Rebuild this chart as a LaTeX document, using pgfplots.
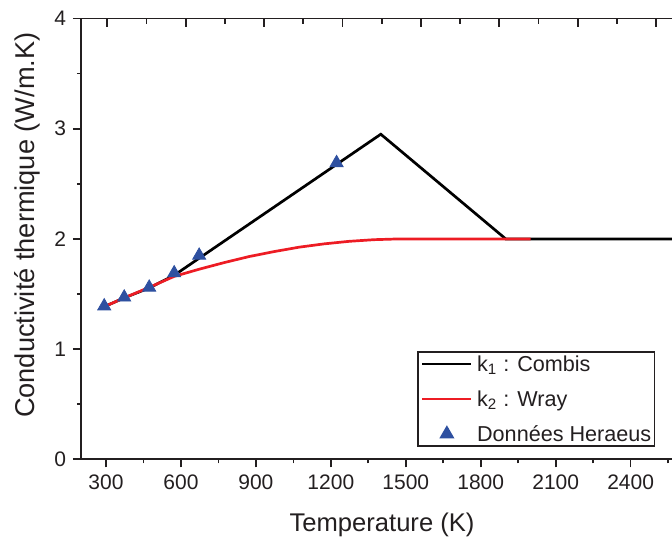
\documentclass[border=0pt]{standalone}
\usepackage{pgfplots}
\pgfplotsset{compat=1.18}
\usepackage{fontspec}
\setmainfont{Liberation Sans}
\definecolor{origred}{RGB}{237,28,36}
\definecolor{origblue}{RGB}{46,80,160}
\definecolor{axgray}{RGB}{35,31,32}
\pgfplotsset{
  lineleg/.style={legend image code/.code={\draw[##1] (0pt,0pt) -- (24.5pt,0pt);}},
  markleg/.style={legend image code/.code={\draw[##1] plot coordinates {(12.25pt,0pt)};}},
}
\begin{document}
\begin{tikzpicture}
\path[use as bounding box] (-40.5pt,-38.85pt) rectangle (295.5pt,229.65pt);
\clip (-40.5pt,-38.85pt) rectangle (295.5pt,229.65pt);
\begin{axis}[
  at={(0,0)}, anchor=south west,
  scale only axis, width=299.8pt, height=220.4pt,
  xmin=200, xmax=2600, ymin=0, ymax=4,
  axis x line*=bottom, axis y line*=left,
  axis line style={line width=0.85pt, -, axgray},
  tick align=outside,
  major tick length=4pt, minor tick length=2pt,
  tick style={line width=0.85pt, axgray},
  xtick={300,600,...,2400}, minor xtick={450,750,...,2550},
  ytick={0,1,2,3,4}, minor ytick={0.5,1.5,2.5,3.5},
  /pgf/number format/1000 sep={},
  /pgf/number format/assume math mode=true,
  ticklabel style={font=\fontsize{10.5}{12}\selectfont, text=axgray},
  xlabel={Temperature (K)},
  xlabel style={at={(axis description cs:0.502,-0.1643)}, anchor=base, font=\fontsize{12.8}{15}\selectfont, text=axgray},
  ylabel={Conductivité thermique (W/m.K)},
  ylabel style={at={(axis description cs:-0.0772,0.531)}, anchor=base, font=\fontsize{13.6}{16}\selectfont, text=axgray},
  legend style={at={(axis description cs:0.561,0.0286)}, anchor=south west,
    draw=axgray, line width=0.65pt, fill=white,
    inner xsep=1.5pt, inner ysep=0pt, row sep=5.5pt, column sep=2.2pt,
    font=\fontsize{10.8}{13}\selectfont,
    nodes={inner xsep=0pt, inner ysep=1pt, text height=8.5pt, text depth=1.5pt, text=axgray}},
  legend cell align=left,
]
\addplot[black, line width=1.35pt, lineleg]
  coordinates {(293,1.385) (373,1.465) (473,1.555) (573,1.67) (1400,2.95) (1900,2.0) (2600,2.0)};
\addlegendentry{k\textsubscript{1} : Combis}
\addplot[origred, line width=1.35pt, lineleg]
  coordinates {(293,1.385) (373,1.465) (473,1.56) (573,1.66) (673,1.725) (773,1.785) (873,1.84) (973,1.885) (1073,1.925) (1173,1.955) (1273,1.978) (1373,1.993) (1473,2.0) (2000,2.0)};
\addlegendentry{k\textsubscript{2} : Wray}
\addplot[only marks, mark=triangle*, mark size=3.75pt, color=origblue, fill=origblue, markleg]
  coordinates {(293,1.39) (373,1.47) (473,1.56) (573,1.69) (673,1.85) (1223,2.69)};
\addlegendentry{Données Heraeus}
\end{axis}
\begin{axis}[
  at={(0,0)}, anchor=south west,
  scale only axis, width=299.8pt, height=220.4pt,
  xmin=0, xmax=599.6, ymin=0, ymax=4,
  axis x line*=top, axis y line*=right,
  axis line style={line width=0.85pt, -, axgray},
  tick align=inside,
  major tick length=4pt, minor tick length=2.5pt,
  tick style={line width=0.85pt, axgray},
  xtick={26.3,104.7,183.1,261.5,339.9,418.3,496.7,575.1},
  minor xtick={65.5,143.9,222.3,300.7,379.1,457.5,535.9},
  ytick={0,1,2,3,4}, minor ytick={0.5,1.5,2.5,3.5},
  xticklabels={}, yticklabels={},
]
\end{axis}
\end{tikzpicture}
\end{document}
